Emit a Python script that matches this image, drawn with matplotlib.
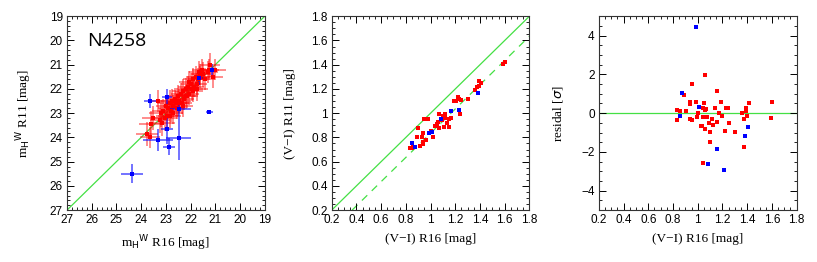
import matplotlib
matplotlib.use("Agg")
import matplotlib.pyplot as plt
from matplotlib.ticker import MultipleLocator
import numpy as np

# ---------------- Panel 1 data: m_H^W R16 vs R11 ----------------
red_mR16 = [23.75, 23.6, 23.65, 23.5, 23.3, 23.2, 23.25, 23.1, 23.05, 23.0, 22.95, 22.9, 22.85, 22.8,
            22.75, 22.7, 22.65, 22.6, 22.55, 22.5, 22.45, 22.4, 22.35, 22.3, 22.25, 22.2, 22.15, 22.1,
            22.05, 22.0, 21.95, 21.9, 21.85, 21.8, 21.75, 21.7, 21.65, 21.6, 21.55, 21.5, 21.4, 21.3,
            21.25, 21.2, 21.1, 21.0, 23.15, 22.85, 22.7, 22.5, 22.3, 22.2, 22.05, 21.9, 21.75, 21.6]
red_mR11 = [23.85, 23.45, 24.0, 23.2, 22.5, 23.0, 23.3, 22.9, 23.2, 22.7, 23.1, 22.8, 22.6, 22.9,
            22.5, 22.7, 22.4, 22.6, 22.8, 22.3, 22.5, 22.2, 22.6, 22.1, 22.4, 22.0, 22.3, 21.9,
            22.2, 21.8, 22.0, 21.6, 21.9, 21.5, 22.0, 21.6, 21.3, 21.5, 21.2, 21.4, 21.6, 21.3,
            21.2, 21.0, 21.5, 21.2, 23.4, 23.1, 23.0, 22.6, 22.7, 22.3, 21.7, 22.1, 21.8, 21.4]
red_xerr = [0.45, 0.5, 0.4, 0.45, 0.4, 0.5, 0.4, 0.45, 0.5, 0.4, 0.45, 0.4, 0.5, 0.4,
            0.45, 0.4, 0.4, 0.45, 0.4, 0.4, 0.45, 0.4, 0.4, 0.45, 0.4, 0.4, 0.45, 0.4,
            0.4, 0.4, 0.45, 0.4, 0.4, 0.4, 0.45, 0.4, 0.4, 0.4, 0.4, 0.45, 0.4, 0.4,
            0.4, 0.4, 0.4, 0.45, 0.5, 0.45, 0.4, 0.45, 0.4, 0.4, 0.4, 0.4, 0.4, 0.4]
red_yerr = [0.5, 0.55, 0.45, 0.5, 0.45, 0.55, 0.5, 0.5, 0.55, 0.45, 0.5, 0.45, 0.55, 0.45,
            0.5, 0.45, 0.45, 0.5, 0.45, 0.45, 0.5, 0.45, 0.45, 0.5, 0.45, 0.45, 0.5, 0.45,
            0.45, 0.45, 0.5, 0.45, 0.45, 0.45, 0.5, 0.45, 0.45, 0.45, 0.45, 0.5, 0.45, 0.45,
            0.45, 0.5, 0.45, 0.45, 0.55, 0.5, 0.45, 0.5, 0.45, 0.45, 0.45, 0.45, 0.45, 0.45]

blue_mR16 = [24.36, 23.65, 23.33, 22.96, 22.95, 22.86, 22.48, 22.48, 21.24, 21.66, 21.15]
blue_mR11 = [25.49, 22.49, 24.11, 22.35, 23.67, 24.39, 24.02, 22.81, 22.95, 21.53, 21.2]
blue_xerr = [0.45, 0.25, 0.6, 0.2, 0.25, 0.25, 0.5, 0.5, 0.15, 0.2, 0.2]
blue_yerr = [0.38, 0.3, 0.45, 0.35, 0.6, 0.35, 0.9, 0.3, 0.1, 0.3, 0.25]

# ---------------- Panel 2 data: (V-I) R16 vs R11 ----------------
red_viR16 = [0.831, 0.85, 0.861, 0.891, 0.896, 0.915, 0.931, 0.937, 0.937, 0.942, 0.95, 0.983,
             1.018, 1.036, 1.058, 1.072, 1.066, 1.082, 1.099, 1.109, 1.117, 1.131, 1.153, 1.147,
             1.169, 1.188, 1.206, 1.22, 1.234, 1.247, 1.239, 1.301, 1.363, 1.374, 1.39, 1.395,
             1.409, 1.584, 1.6, 1.05, 1.09, 1.12, 1.0, 0.96]
red_viR11 = [0.714, 0.714, 0.722, 0.80, 0.879, 0.728, 0.80, 0.838, 0.764, 0.744, 0.956, 0.948,
             0.80, 0.893, 0.928, 0.997, 0.874, 0.948, 0.978, 0.887, 0.997, 0.915, 0.953, 0.882,
             0.964, 1.102, 1.102, 1.135, 1.118, 1.107, 0.997, 1.116, 1.195, 1.217, 1.267, 1.223,
             1.245, 1.41, 1.426, 0.91, 0.94, 0.96, 0.85, 0.78]
blue_viR16 = [0.85, 0.875, 0.985, 1.01, 1.082, 1.169, 1.234, 1.382]
blue_viR11 = [0.755, 0.72, 0.838, 0.846, 0.956, 1.019, 1.025, 1.168]
vi_offset = 0.165

# ---------------- Panel 3 data: residual vs (V-I) R16 ----------------
red_resx = [0.832, 0.83, 0.854, 0.889, 0.903, 0.94, 0.94, 0.951, 0.94, 0.957, 0.984, 0.992,
            1.003, 1.024, 1.038, 1.04, 1.04, 1.05, 1.062, 1.062, 1.043, 1.062, 1.07, 1.076,
            1.095, 1.103, 1.103, 1.113, 1.12, 1.14, 1.154, 1.154, 1.173, 1.19, 1.2, 1.22,
            1.227, 1.246, 1.254, 1.303, 1.362, 1.373, 1.378, 1.389, 1.389, 1.397, 1.416,
            1.592, 1.605]
red_resy = [0.17, -0.34, 0.12, 0.96, 0.12, 0.6, 0.48, 1.51, -0.29, -0.34, 0.6, -0.22,
            0.0, -0.65, -0.65, -2.58, 0.29, 0.55, 1.97, 0.17, -0.22, -0.81, 0.2, -0.22,
            -0.52, -0.98, -1.49, -0.29, -0.6, 0.29, 1.15, -0.43, 0.0, 0.57, -0.17, -0.91,
            0.29, 0.26, -0.52, -0.98, 0.0, -0.29, -1.72, 0.29, 0.09, -0.17, 0.52,
            -0.26, 0.57]
blue_resx = [0.984, 0.873, 0.854, 1.011, 1.084, 1.154, 1.214, 1.381, 1.403]
blue_resy = [4.46, 1.06, -0.17, 0.34, -2.61, -1.85, -2.92, -1.2, -0.72]

vi_ticks = ['0.2', '0.4', '0.6', '0.8', '1', '1.2', '1.4', '1.6', '1.8']

RED = '#ff0000'
BLUE = '#0000ff'
GREEN = '#44e044'
TICKFONT = 'Liberation Sans'
LABELFONT = 'Liberation Serif'
TS = 8.5
LS = 9.5

fig = plt.figure(figsize=(8.17, 2.62), dpi=100)
ax1 = fig.add_axes([0.082, 0.198, 0.242, 0.740])
ax2 = fig.add_axes([0.406, 0.198, 0.242, 0.740])
ax3 = fig.add_axes([0.733, 0.198, 0.242, 0.740])


def style(ax, minor_x, minor_y):
    ax.xaxis.set_minor_locator(MultipleLocator(minor_x))
    ax.yaxis.set_minor_locator(MultipleLocator(minor_y))
    ax.tick_params(which='both', direction='in', top=True, right=True, labelsize=TS)
    ax.tick_params(which='major', length=5, width=0.7, pad=3)
    ax.tick_params(which='minor', length=2.5, width=0.6)
    for lab in ax.get_xticklabels() + ax.get_yticklabels():
        lab.set_fontfamily(TICKFONT)
    for s in ax.spines.values():
        s.set_linewidth(0.8)
        s.set_color('#333333')


# Panel 1
ax1.plot([27, 19], [27, 19], color=GREEN, lw=0.9, zorder=1)
ax1.errorbar(red_mR16, red_mR11, xerr=red_xerr, yerr=red_yerr, fmt='none',
             ecolor=RED, elinewidth=1.4, alpha=0.45, zorder=2)
ax1.errorbar(blue_mR16, blue_mR11, xerr=blue_xerr, yerr=blue_yerr, fmt='none',
             ecolor=BLUE, elinewidth=1.1, alpha=0.7, zorder=3)
ax1.plot(red_mR16, red_mR11, 's', color=RED, ms=3.5, mew=0, zorder=4)
ax1.plot(blue_mR16, blue_mR11, 's', color=BLUE, ms=3.5, mew=0, zorder=5)
ax1.set_xlim(27, 19)
ax1.set_ylim(27, 19)
ax1.set_xticks(np.arange(19, 28, 1))
ax1.set_yticks(np.arange(19, 28, 1))
style(ax1, 0.2, 0.2)
ax1.text(0.1, 0.87, 'N4258', transform=ax1.transAxes, fontsize=14,
         family='Open Sans', ha='left', va='center')
ax1.set_xlabel(r'm$_{\rm H}$$^{\rm W}$ R16 [mag]', family=LABELFONT, fontsize=LS, labelpad=5)
ax1.set_ylabel(r'm$_{\rm H}$$^{\rm W}$ R11 [mag]', family=LABELFONT, fontsize=LS, labelpad=11)

# Panel 2
ax2.plot([0.2, 1.8], [0.2, 1.8], color=GREEN, lw=0.9, zorder=1)
ax2.plot([0.2 + vi_offset, 1.8], [0.2, 1.8 - vi_offset], color=GREEN, lw=0.9,
         ls=(0, (6, 5)), zorder=1)
ax2.plot(red_viR16, red_viR11, 's', color=RED, ms=3.5, mew=0, zorder=3)
ax2.plot(blue_viR16, blue_viR11, 's', color=BLUE, ms=3.5, mew=0, zorder=4)
ax2.set_xlim(0.2, 1.8)
ax2.set_ylim(0.2, 1.8)
ax2.set_xticks(np.round(np.arange(0.2, 1.81, 0.2), 1))
ax2.set_xticklabels(vi_ticks)
ax2.set_yticks(np.round(np.arange(0.2, 1.81, 0.2), 1))
ax2.set_yticklabels(vi_ticks)
style(ax2, 0.05, 0.05)
ax2.set_xlabel('(V\u2212I) R16 [mag]', family=LABELFONT, fontsize=LS, labelpad=5)
ax2.set_ylabel('(V\u2212I) R11 [mag]', family=LABELFONT, fontsize=LS, labelpad=11)

# Panel 3
ax3.axhline(0, color=GREEN, lw=0.9, zorder=1)
ax3.plot(red_resx, red_resy, 's', color=RED, ms=3.5, mew=0, zorder=3)
ax3.plot(blue_resx, blue_resy, 's', color=BLUE, ms=3.5, mew=0, zorder=4)
ax3.set_xlim(0.2, 1.8)
ax3.set_ylim(-5, 5)
ax3.set_xticks(np.round(np.arange(0.2, 1.81, 0.2), 1))
ax3.set_xticklabels(vi_ticks)
ax3.set_yticks([-4, -2, 0, 2, 4])
ax3.set_yticklabels(['\u22124', '\u22122', '0', '2', '4'])
style(ax3, 0.05, 0.5)
ax3.set_xlabel('(V\u2212I) R16 [mag]', family=LABELFONT, fontsize=LS, labelpad=5)
ax3.set_ylabel(r'residal [$\sigma$]', family=LABELFONT, fontsize=LS, labelpad=12)

fig.savefig('out.png', dpi=100)
